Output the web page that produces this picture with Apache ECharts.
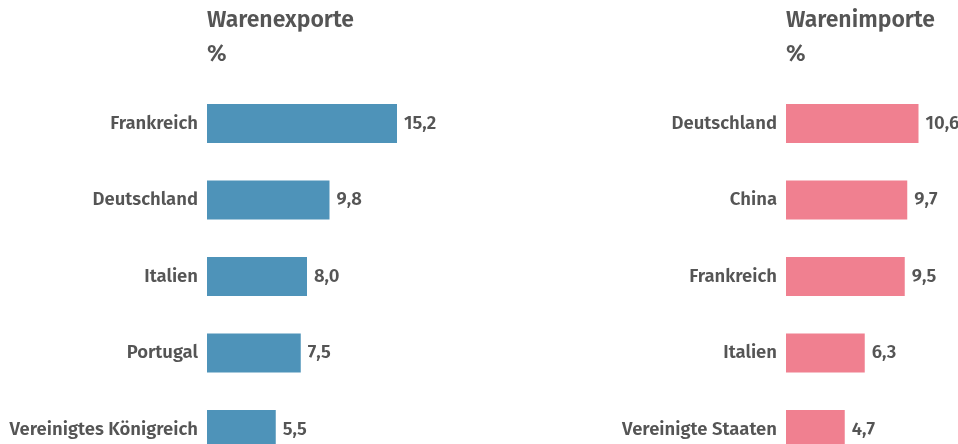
<!DOCTYPE html>
<html>
<head>
<meta charset="utf-8">
<script src="https://cdn.jsdelivr.net/npm/echarts@6/dist/echarts.min.js"></script>
<style>html,body{margin:0;padding:0;background:#fff;width:958px;height:444px;overflow:hidden}#c{width:958px;height:480px}</style>
</head>
<body>
<div id="c"></div>
<script>
const exportTitle = 'Warenexporte';
const importTitle = 'Warenimporte';
const unitLabel = '%';
const exportCats = ['Frankreich', 'Deutschland', 'Italien', 'Portugal', 'Vereinigtes Königreich'];
const exportVals = [15.2, 9.8, 8.0, 7.5, 5.5];
const importCats = ['Deutschland', 'China', 'Frankreich', 'Italien', 'Vereinigte Staaten'];
const importVals = [10.6, 9.7, 9.5, 6.3, 4.7];

const FONT = '"Fira Sans","Open Sans","Noto Sans",sans-serif';
const TXT = '#555555';
const fmt = v => v.toFixed(1).replace('.', ',');

const chart = echarts.init(document.getElementById('c'), null, {renderer: 'canvas'});
function titleOpt(text, left) {
  return {
    text: text + '\n' + unitLabel,
    left: left, top: 4, padding: 0,
    textStyle: {fontFamily: FONT, fontSize: 23, fontWeight: 600, color: TXT, lineHeight: 34}
  };
}
function yAx(cats, gi) {
  return {
    type: 'category', gridIndex: gi, data: cats, inverse: true,
    axisLine: {show: false}, axisTick: {show: false}, splitLine: {show: false},
    axisLabel: {margin: 9, fontFamily: FONT, fontSize: 18.5, fontWeight: 600, color: TXT}
  };
}
function xAx(gi, max) {
  return {type: 'value', gridIndex: gi, min: 0, max: max, show: false, splitLine: {show: false}};
}
function ser(vals, gi, color) {
  return {
    type: 'bar', xAxisIndex: gi, yAxisIndex: gi, data: vals, barWidth: 39,
    itemStyle: {color: color},
    label: {show: true, position: 'right', distance: 7, formatter: p => fmt(p.value),
      fontFamily: FONT, fontSize: 18.5, fontWeight: 600, color: TXT},
    silent: true
  };
}
chart.setOption({
  animation: false,
  title: [titleOpt(exportTitle, 207), titleOpt(importTitle, 786)],
  grid: [
    {left: 207, top: 85.25, width: 250, height: 382.5, containLabel: false},
    {left: 786, top: 85.25, width: 150, height: 382.5, containLabel: false}
  ],
  xAxis: [xAx(0, 20), xAx(1, 12)],
  yAxis: [yAx(exportCats, 0), yAx(importCats, 1)],
  series: [ser(exportVals, 0, '#4e93b9'), ser(importVals, 1, '#f08090')]
});
</script>
</body>
</html>
